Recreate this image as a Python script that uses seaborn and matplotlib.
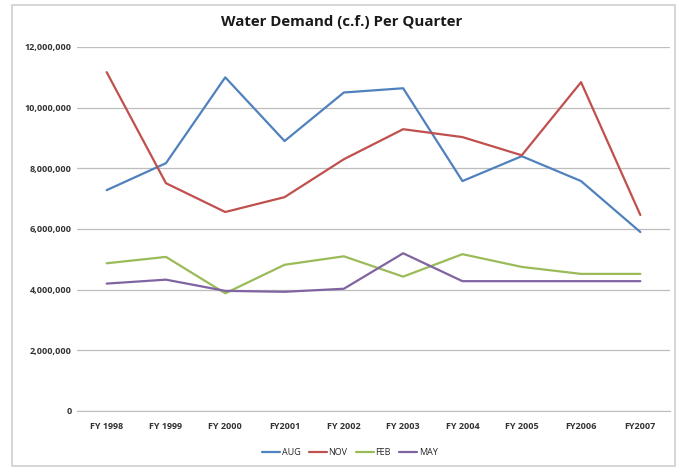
import pandas as pd
import matplotlib
matplotlib.use('Agg')
import matplotlib.pyplot as plt
import matplotlib.ticker as ticker
from matplotlib.patches import Rectangle
import seaborn as sns

# Data
years = ['FY 1998', 'FY 1999', 'FY 2000', 'FY2001', 'FY 2002',
         'FY 2003', 'FY 2004', 'FY 2005', 'FY2006', 'FY2007']
aug = [7.28e6, 8.17e6, 11.0e6, 8.9e6, 10.5e6, 10.64e6, 7.58e6, 8.4e6, 7.58e6, 5.9e6]
nov = [11.17e6, 7.51e6, 6.56e6, 7.05e6, 8.3e6, 9.29e6, 9.03e6, 8.43e6, 10.84e6, 6.46e6]
feb = [4.87e6, 5.08e6, 3.88e6, 4.82e6, 5.1e6, 4.43e6, 5.17e6, 4.75e6, 4.52e6, 4.52e6]
may = [4.2e6, 4.33e6, 3.96e6, 3.93e6, 4.03e6, 5.2e6, 4.28e6, 4.28e6, 4.28e6, 4.28e6]
series_names = ['AUG', 'NOV', 'FEB', 'MAY']
series_colors = ['#4F81BD', '#C0504D', '#9BBB59', '#8064A2']

df = pd.DataFrame({'Year': years * 4,
                   'Month': [n for n in series_names for _ in years],
                   'Demand': aug + nov + feb + may})
df['pos'] = df['Year'].map({y: i for i, y in enumerate(years)})

sns.set_style('white')
plt.rcParams['font.family'] = ['Open Sans', 'DejaVu Sans']

fig = plt.figure(figsize=(6.84, 4.68), dpi=100)
ax = fig.add_axes([77/684, 1 - 411/468, 593/684, 364/468])

sns.lineplot(data=df, x='pos', y='Demand', hue='Month', hue_order=series_names,
             palette=dict(zip(series_names, series_colors)), linewidth=1.6, ax=ax)

ax.set_xlim(-0.5, len(years) - 0.5)
ax.set_ylim(0, 12e6)
ax.set_xticks(range(len(years)))
ax.set_xticklabels(years, fontsize=6.5, fontweight='bold', color='#333333')
ax.yaxis.set_major_locator(ticker.MultipleLocator(2e6))
ax.yaxis.set_major_formatter(ticker.FuncFormatter(lambda v, _: f'{int(v):,}'))
for lab in ax.get_yticklabels():
    lab.set_fontsize(6.5)
    lab.set_fontweight('bold')
    lab.set_color('#333333')
ax.tick_params(axis='x', length=0, pad=8)
ax.tick_params(axis='y', length=0, pad=4)
ax.grid(axis='y', color='#bdbdbd', linewidth=0.9)
ax.set_axisbelow(True)
for s in ['top', 'right', 'left']:
    ax.spines[s].set_visible(False)
ax.spines['bottom'].set_color('#bdbdbd')
ax.set_xlabel('')
ax.set_ylabel('')

fig.text(0.5, 1 - 22/468, 'Water Demand (c.f.) Per Quarter', ha='center', va='center',
         fontsize=10.8, fontweight='bold', color='#1a1a1a')

ax.legend(loc='center', bbox_to_anchor=(0.46, -0.115), ncol=4, frameon=False,
          fontsize=6.5, handlelength=2.0, handletextpad=0.2, columnspacing=0.9)

fig.patches.append(Rectangle((12/684, 2/468), 663/684, 461/468, transform=fig.transFigure,
                             fill=False, edgecolor='#d0d0d0', linewidth=1.2))

fig.savefig('out.png', dpi=100)
